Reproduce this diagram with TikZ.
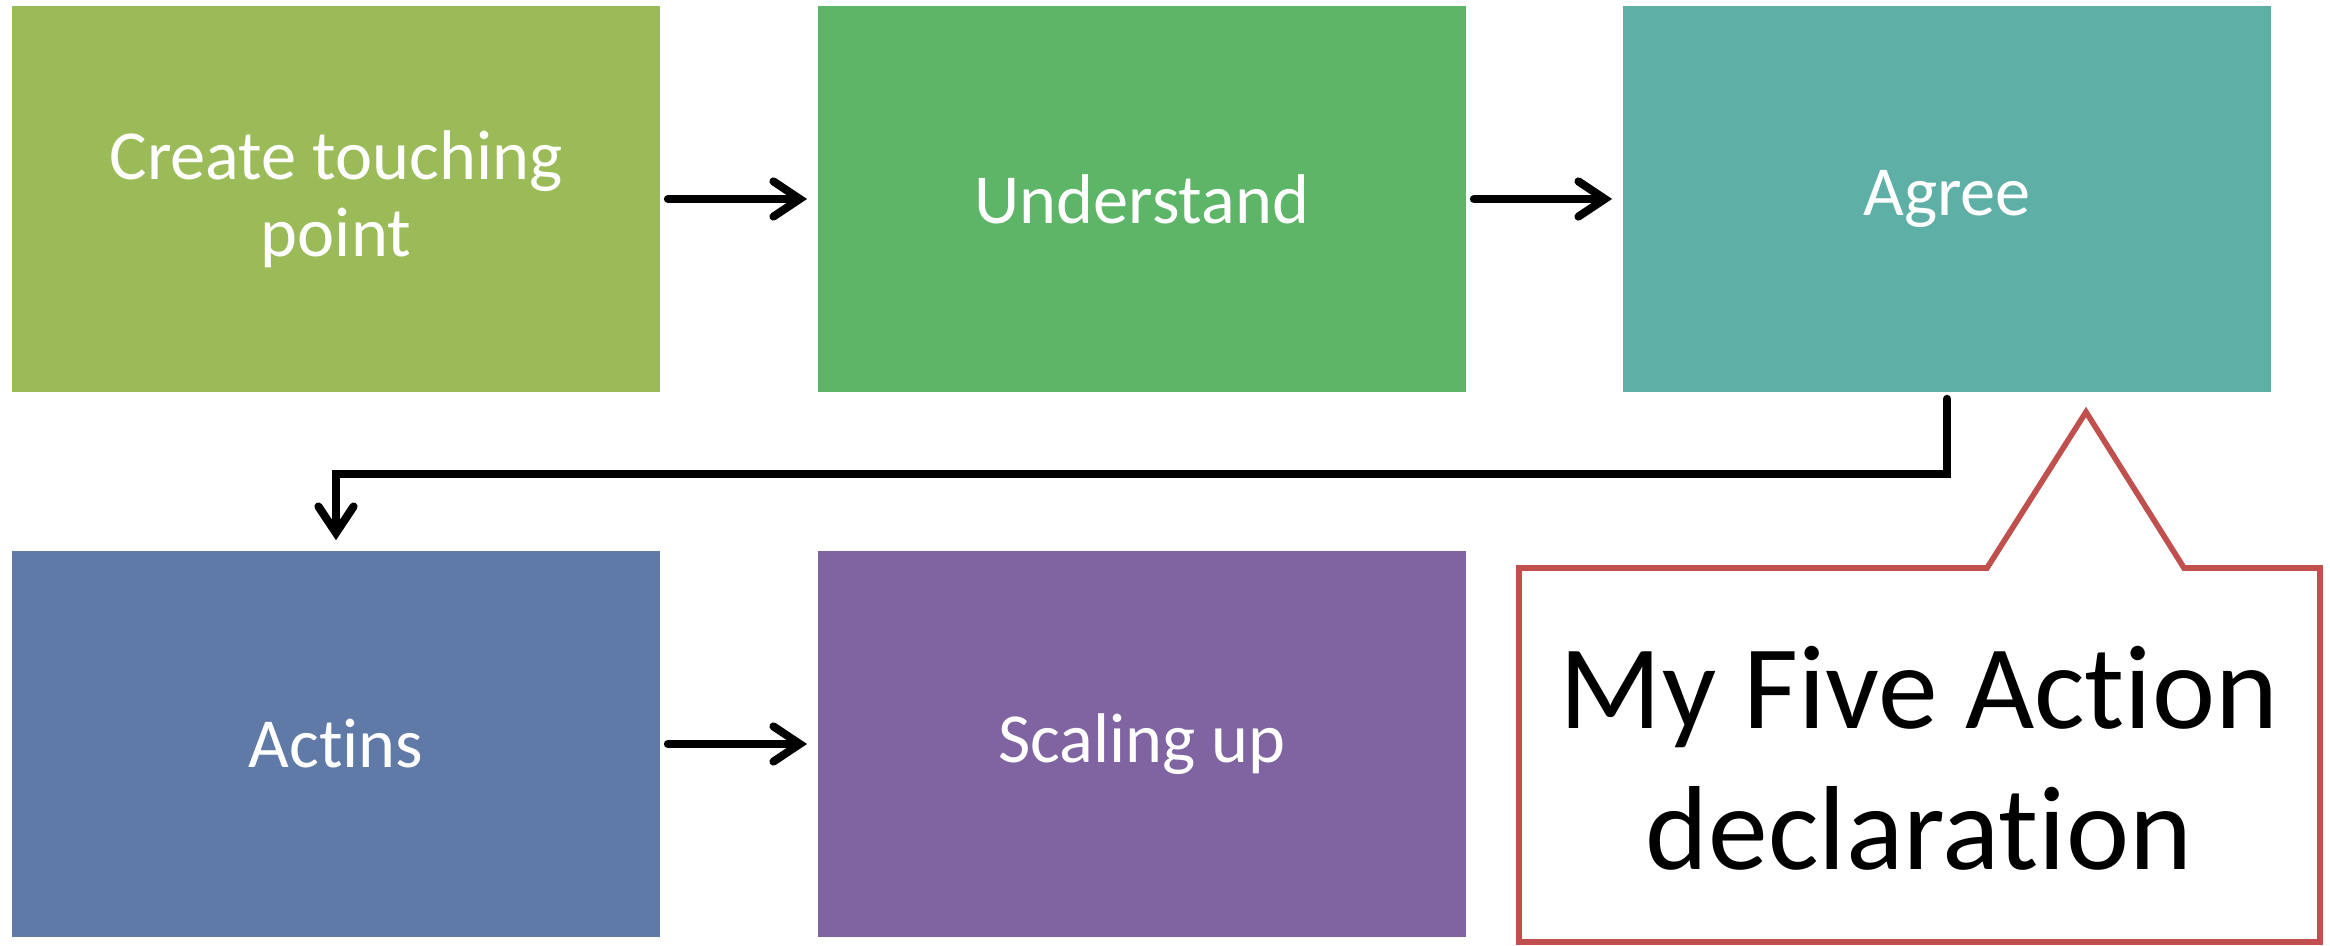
\documentclass[tikz,border=0pt]{standalone}
\usepackage{fontspec}
\setmainfont{Carlito}[Ligatures={NoCommon,NoRequired,NoContextual}]
\usetikzlibrary{arrows.meta}
\definecolor{cA}{HTML}{9BBB59}
\definecolor{cB}{HTML}{5DB567}
\definecolor{cC}{HTML}{5EAFA6}
\definecolor{cD}{HTML}{607AA8}
\definecolor{cE}{HTML}{8064A2}
\definecolor{cR}{HTML}{C0504D}
\tikzset{
  stepbox/.style={rectangle, minimum width=6.48cm, minimum height=3.86cm, inner sep=0pt,
    text=white, align=center, font=\fontsize{20}{22}\selectfont},
  conn/.style={draw=black, line width=2.3pt, line cap=round,
    -{Straight Barb[length=7.5pt,width=10pt,line cap=round]}},
  calloutline/.style={draw=cR, line width=1.6pt, line join=miter, fill=white},
}
\begin{document}
\begin{tikzpicture}[x=0.01cm,y=-0.01cm]
\useasboundingbox (0,0) rectangle (2330,946);
\node[stepbox, fill=cA] (b1) at (336,199) {Create touching\\point};
\node[stepbox, fill=cB] (b2) at (1142,199) {Understand};
\node[stepbox, fill=cC] (b3) at (1947,199) {Agree};
\node[stepbox, fill=cD] (b4) at (336,744) {Actins};
\node[stepbox, fill=cE] (b5) at (1142,744) {Scaling up};

\draw[conn, shorten <=0.07cm, shorten >=0.1cm] (b1.east) -- (b2.west);
\draw[conn, shorten <=0.07cm, shorten >=0.1cm] (b2.east) -- (b3.west);
\draw[conn, shorten <=0.07cm, shorten >=0.1cm] (b4.east) -- (b5.west);
\draw[conn] ([yshift=-0.06cm]b3.south) -- ++(0,75) -| ([yshift=0.1cm]b4.north);

\coordinate (cnw) at (1519,568);
\coordinate (cpl) at (1987,568);
\coordinate (cap) at (2086,412);
\coordinate (cpr) at (2184,568);
\coordinate (cne) at (2320,568);
\coordinate (cse) at (2320,942);
\coordinate (csw) at (1519,942);
\draw[calloutline] (cnw) -- (cpl) -- (cap) -- (cpr) -- (cne) -- (cse) -- (csw) -- cycle;
\node[align=center, font=\fontsize{34}{40}\selectfont] (ctext) at (1919,758) {My Five Action\\declaration};
\end{tikzpicture}
\end{document}
